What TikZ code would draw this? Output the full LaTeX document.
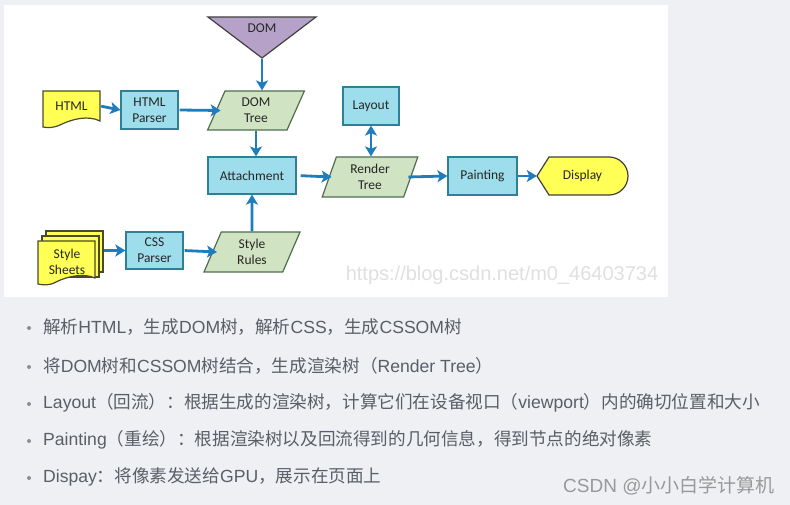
\documentclass[tikz,border=0pt]{standalone}
\usepackage{fontspec}
\setmainfont{Carlito}
\newfontfamily\cjkfont{Noto Sans CJK SC}
\newfontfamily\wmfont{Liberation Sans}
\newcommand{\lt}[1]{{\wmfont #1}}
\usetikzlibrary{arrows.meta,shapes.geometric}
\definecolor{pagebg}{HTML}{EEF0F3}
\definecolor{procfill}{HTML}{9EDDEB}
\definecolor{procdraw}{HTML}{2F7F97}
\definecolor{datafill}{HTML}{D0E3C3}
\definecolor{datadraw}{HTML}{4F6E4F}
\definecolor{docfill}{HTML}{FFFF55}
\definecolor{docdraw}{HTML}{4A4A2A}
\definecolor{mergefill}{HTML}{B6A2C9}
\definecolor{flow}{HTML}{1F7DBE}
\definecolor{bodytext}{HTML}{5A5E66}
\tikzset{
  every node/.style={font=\fontsize{13.5}{15}\selectfont, text=black!85, align=center, inner sep=0pt},
  procbox/.style={rectangle, draw=procdraw, fill=procfill, line width=1.2pt},
  databox/.style={trapezium, trapezium left angle=72, trapezium right angle=108,
    trapezium stretches=true, draw=datadraw, fill=datafill, line width=1.2pt},
  docshape/.style={draw=docdraw, fill=docfill, line width=1.2pt},
  flowarrow/.style={draw=flow, line width=2.8pt, -{Stealth[length=10pt,width=12pt,inset=2.5pt]}},
  bidarrow/.style={draw=flow, line width=2.8pt, {Stealth[length=10pt,width=12pt,inset=2.5pt]}-{Stealth[length=10pt,width=12pt,inset=2.5pt]}},
  bullettext/.style={anchor=west, font=\cjkfont\fontsize{17.6}{20}\selectfont, text=bodytext},
  bulletdot/.style={circle, fill=bodytext!70, minimum size=4pt}
}
\begin{document}
\begin{tikzpicture}[x=1pt,y=-1pt]
\useasboundingbox (0,0) rectangle (790,505);
\fill[pagebg] (0,0) rectangle (790,505);
\fill[white] (4,5) rectangle (668,297);

% DOM triangle
\draw[fill=mergefill, draw=black!75, line width=1.2pt] (208,17) -- (316,17) -- (262,58) -- cycle;
\node (dom) at (262,28) {DOM};
\coordinate (domtip) at (262,59);

% HTML document
\draw[docshape] (43,91) -- (100,91) -- (100,121)
  .. controls (88,115) and (72,119) .. (60,125)
  .. controls (53,128) and (48,128) .. (43,127) -- cycle;
\node[minimum width=57pt, minimum height=30pt] (html) at (71.5,106) {HTML};

% HTML Parser
\node[procbox, minimum width=57pt, minimum height=38pt] (htmlparser) at (149.5,110) {HTML\\[1pt]Parser};

% DOM Tree
\node[databox, minimum width=97pt, minimum height=39pt] (domtree) at (256,110.5) {DOM\\[1pt]Tree};

% Layout
\node[procbox, minimum width=56pt, minimum height=38pt] (layout) at (371,106) {Layout};

% Attachment
\node[procbox, minimum width=88pt, minimum height=37pt] (attach) at (252,175.5) {Attachment};

% Render Tree
\node[databox, minimum width=96pt, minimum height=40pt] (render) at (370,177) {Render\\[1pt]Tree};

% Painting
\node[procbox, minimum width=69pt, minimum height=38pt] (paint) at (482.5,176) {Painting};

% Display
\draw[fill=docfill, draw=black!75, line width=1.2pt] (537,176) -- (549,157) -- (609,157)
  arc[start angle=-90, end angle=90, radius=19] -- (549,195) -- cycle;
\node[minimum width=91pt, minimum height=38pt] (display) at (582.5,176) {Display};

% Style Sheets stack
\draw[docshape] (46,231) rectangle (103,272);
\draw[docshape] (42,236) rectangle (99,277);
\draw[docshape] (38,241) -- (95,241) -- (95,278)
  .. controls (84,273) and (68,276) .. (56,282)
  .. controls (49,286) and (43,285) .. (38,284) -- cycle;
\node (sheets) at (67,262) {Style\\[1pt]Sheets};
\coordinate (sheetsout) at (104,250.5);

% CSS Parser
\node[procbox, minimum width=57pt, minimum height=37pt] (cssparser) at (154.5,250.5) {CSS\\[1pt]Parser};

% Style Rules
\node[databox, minimum width=96pt, minimum height=40pt] (rules) at (252,252) {Style\\[1pt]Rules};

% connectors
\draw[flowarrow] (domtip) -- (domtip |- domtree.north);
\draw[flowarrow, shorten <=1pt] (html.east) -- (htmlparser.west);
\draw[flowarrow, shorten <=1pt] (htmlparser.east) -- ([xshift=5pt]domtree.west);
\draw[flowarrow] (domtree.south) -- (attach.north -| domtree.south);
\draw[flowarrow] (rules.north) -- (attach.south);
\draw[flowarrow, shorten <=4pt] (attach.east) -- ([xshift=3pt]render.west);
\draw[bidarrow] (render.north -| layout.south) -- (layout.south);
\draw[flowarrow, shorten <=1pt] ([xshift=-4pt]render.east) -- (paint.west);
\draw[flowarrow] (paint.east) -- (display.west);
\draw[flowarrow] (sheetsout) -- (cssparser.west);
\draw[flowarrow, shorten <=1pt] (cssparser.east) -- ([xshift=5pt]rules.west);

% image watermark
\node[anchor=center, font=\wmfont\fontsize{20}{22}\selectfont, text=black!12] (wm1) at (502,275) {https://blog.csdn.net/m0\_46403734};

% bullet list
\node[bulletdot] (d1) at (29,328) {};
\node[bullettext] (t1) at (43,327) {解析\lt{HTML}，生成\lt{DOM}树，解析\lt{CSS}，生成\lt{CSSOM}树};
\node[bulletdot] (d2) at (29,367) {};
\node[bullettext] (t2) at (43,366) {将\lt{DOM}树和\lt{CSSOM}树结合，生成渲染树（\lt{Render Tree}）};
\node[bulletdot] (d3) at (29,404) {};
\node[bullettext] (t3) at (43,403) {\lt{Layout}（回流）：根据生成的渲染树，计算它们在设备视口（\lt{viewport}）内的确切位置和大小};
\node[bulletdot] (d4) at (29,441) {};
\node[bullettext] (t4) at (43,440) {\lt{Painting}（重绘）：根据渲染树以及回流得到的几何信息，得到节点的绝对像素};
\node[bulletdot] (d5) at (29,478) {};
\node[bullettext] (t5) at (43,477) {\lt{Dispay}：将像素发送给\lt{GPU}，展示在页面上};

% CSDN watermark
\node[anchor=west, font=\cjkfont\fontsize{19}{21}\selectfont, text=black!40] (wm2) at (563,486) {\lt{CSDN @}小小白学计算机};
\end{tikzpicture}
\end{document}
